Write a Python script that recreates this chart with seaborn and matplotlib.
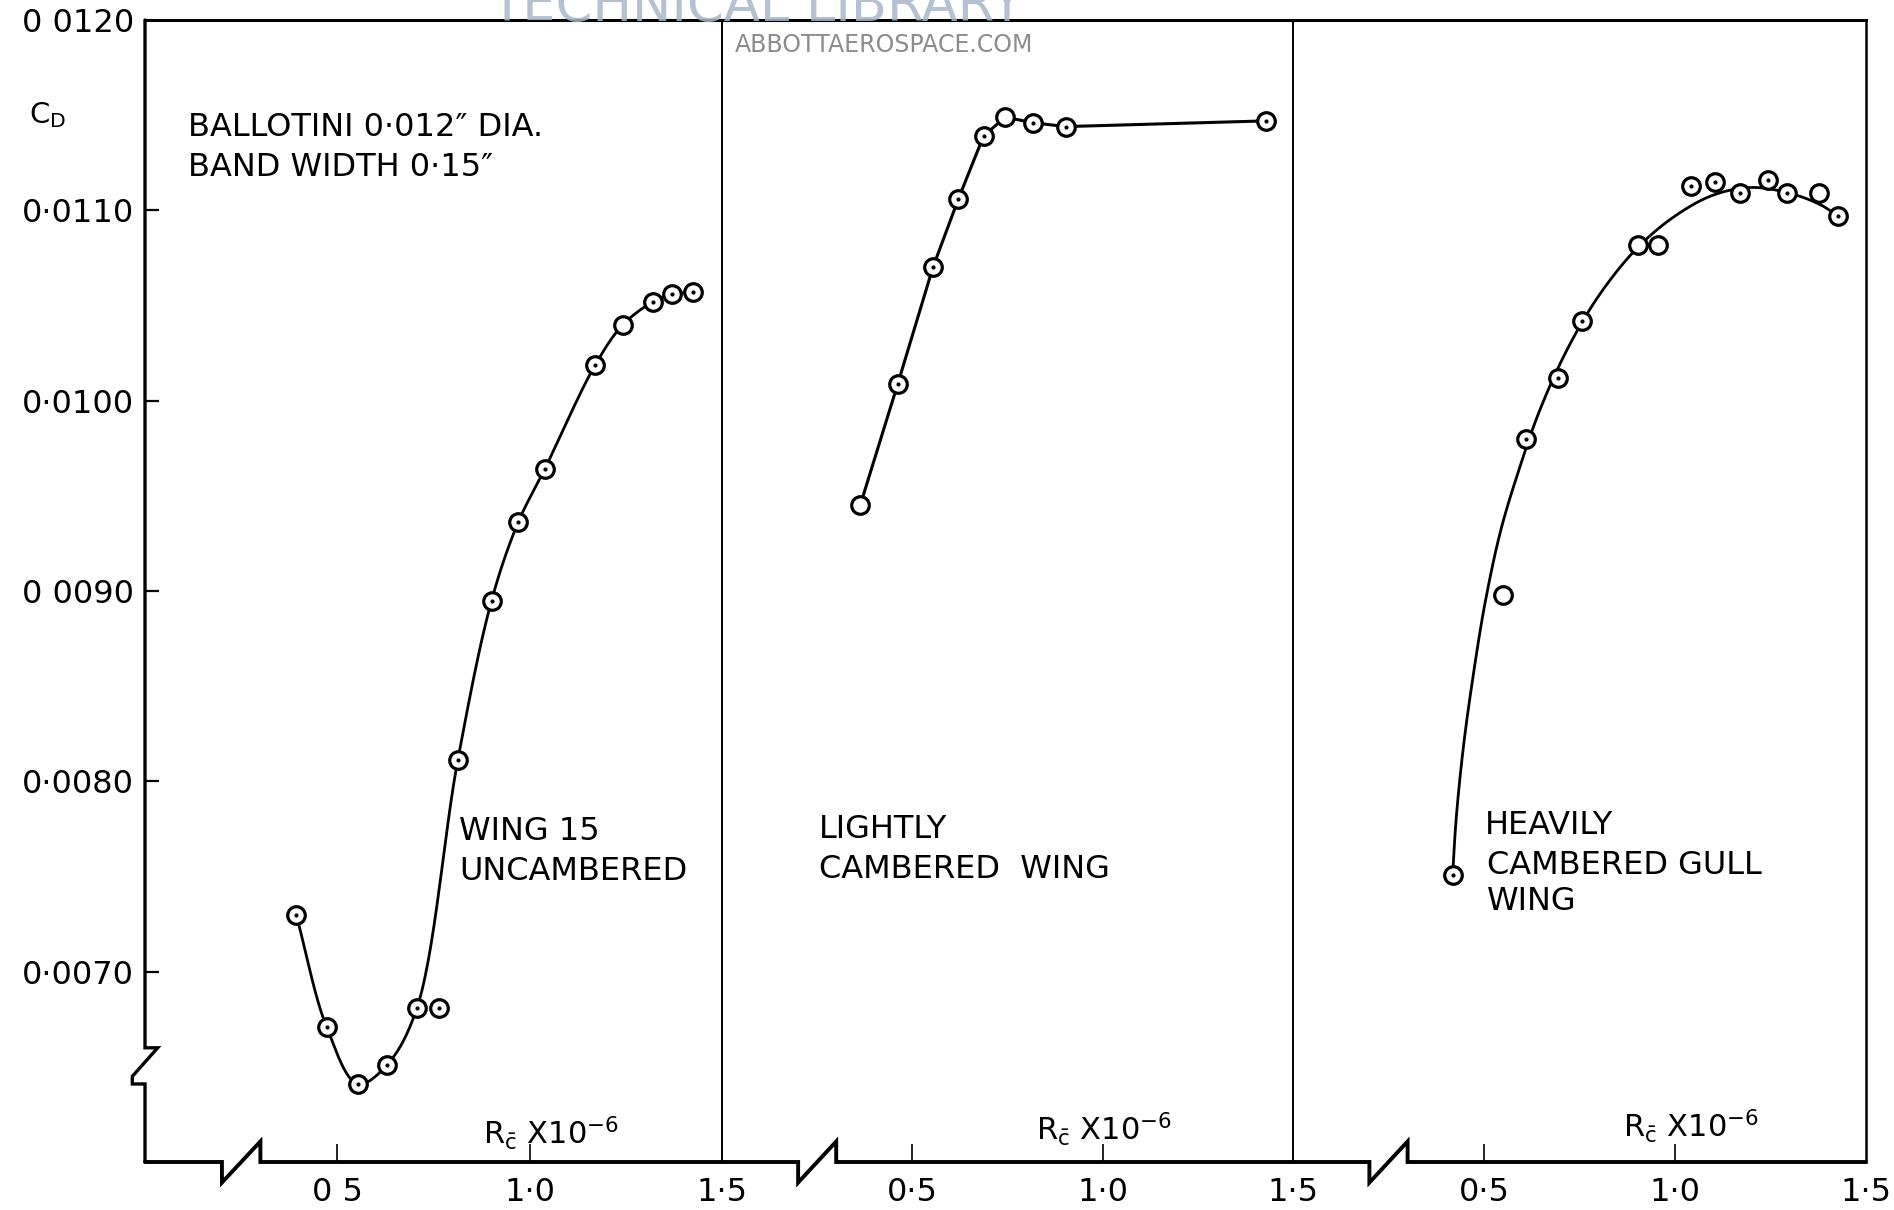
import numpy as np
import matplotlib
matplotlib.use("Agg")
import matplotlib.pyplot as plt
import seaborn as sns

# ---------------- data ----------------
# Wing 15, uncambered
wing15_re = [0.393, 0.472, 0.553, 0.629, 0.707, 0.763, 0.813, 0.901, 0.970,
             1.039, 1.171, 1.243, 1.321, 1.371, 1.425]
wing15_cd = [0.00730, 0.00671, 0.00641, 0.00651, 0.00681, 0.00681, 0.00811,
             0.00895, 0.00936, 0.00964, 0.01019, 0.01040, 0.01052, 0.01056, 0.01057]
wing15_dot = [1, 1, 1, 1, 1, 1, 1, 1, 1, 1, 1, 0, 1, 1, 1]
# faired curve through the points (the 0.763 point lies off the curve)
wing15_fair_re = [0.393, 0.472, 0.553, 0.629, 0.707, 0.813, 0.901, 0.970,
                  1.039, 1.171, 1.243, 1.321, 1.371, 1.425]
wing15_fair_cd = [0.00730, 0.00671, 0.00641, 0.00651, 0.00681, 0.00811, 0.00895,
                  0.00936, 0.00964, 0.01019, 0.01040, 0.01052, 0.01056, 0.01057]

# Lightly cambered wing
light_re = [0.363, 0.462, 0.554, 0.621, 0.687, 0.744, 0.817, 0.903, 1.430]
light_cd = [0.00945, 0.01009, 0.01070, 0.01106, 0.01139, 0.01149, 0.01146, 0.01144, 0.01147]
light_dot = [0, 1, 1, 1, 1, 0, 1, 1, 1]

# Heavily cambered gull wing
gull_re = [0.418, 0.551, 0.611, 0.693, 0.756, 0.902, 0.956, 1.041, 1.104,
           1.171, 1.244, 1.294, 1.377, 1.427]
gull_cd = [0.00751, 0.00898, 0.00980, 0.01012, 0.01042, 0.01082, 0.01082, 0.01113,
           0.01115, 0.01109, 0.01116, 0.01109, 0.01109, 0.01097]
gull_dot = [1, 0, 1, 1, 1, 0, 0, 1, 1, 1, 1, 1, 0, 1]
# faired curve as drawn in the reference
gull_fair_re = [0.418, 0.427, 0.446, 0.472, 0.503, 0.544, 0.592, 0.646, 0.718,
                0.800, 0.900, 1.000, 1.100, 1.200, 1.300, 1.380, 1.427]
gull_fair_cd = [0.00751, 0.00780, 0.00818, 0.00856, 0.00894, 0.00932, 0.00964,
                0.00995, 0.01027, 0.01055, 0.01080, 0.01097, 0.01108, 0.01112,
                0.01109, 0.01103, 0.01097]

ytick_vals = [0.0070, 0.0080, 0.0090, 0.0100, 0.0110, 0.0120]
ytick_labels = ["0·0070", "0·0080", "0 0090", "0·0100", "0·0110", "0 0120"]
xtick_vals = [0.5, 1.0, 1.5]
xtick_labels_left = ["0 5", "1·0", "1·5"]
xtick_labels = ["0·5", "1·0", "1·5"]

# ---------------- style ----------------
sns.set_theme(style="white")
plt.rcParams["font.family"] = ["DejaVu Sans"]
plt.rcParams["mathtext.default"] = "regular"
plt.rcParams["text.color"] = "black"

W, H = 1894, 1210
fig = plt.figure(figsize=(W / 100, H / 100), dpi=100)
fig.patch.set_facecolor("white")


def fx(px):
    return px / W


def fy(py):
    return 1 - py / H


top_px, bot_px = 20, 1162
edges = [145, 722, 1293, 1866]
axes = []
for i in range(3):
    ax = fig.add_axes([fx(edges[i]), fy(bot_px), (edges[i + 1] - edges[i]) / W,
                       (bot_px - top_px) / H])
    ax.set_xlim(0, 1.5)
    ax.set_ylim(0.0060, 0.0120)
    ax.set_facecolor("none")
    axes.append(ax)

XSPAN, YSPAN = 1.5, 0.006


def smooth(xs, ys, n=30):
    sx = 577 / XSPAN
    sy = 1142 / YSPAN
    P = np.column_stack([np.asarray(xs) * sx, np.asarray(ys) * sy])
    P = np.vstack([2 * P[0] - P[1], P, 2 * P[-1] - P[-2]])
    out = [P[1]]
    for i in range(1, len(P) - 2):
        p0, p1, p2, p3 = P[i - 1], P[i], P[i + 1], P[i + 2]
        t0 = 0.0
        t1 = t0 + np.linalg.norm(p1 - p0) ** 0.5
        t2 = t1 + np.linalg.norm(p2 - p1) ** 0.5
        t3 = t2 + np.linalg.norm(p3 - p2) ** 0.5
        t = np.linspace(t1, t2, n)[1:, None]
        A1 = (t1 - t) / (t1 - t0) * p0 + (t - t0) / (t1 - t0) * p1
        A2 = (t2 - t) / (t2 - t1) * p1 + (t - t1) / (t2 - t1) * p2
        A3 = (t3 - t) / (t3 - t2) * p2 + (t - t2) / (t3 - t2) * p3
        B1 = (t2 - t) / (t2 - t0) * A1 + (t - t0) / (t2 - t0) * A2
        B2 = (t3 - t) / (t3 - t1) * A2 + (t - t1) / (t3 - t1) * A3
        C = (t2 - t) / (t2 - t1) * B1 + (t - t1) / (t2 - t1) * B2
        out.extend(C)
    out = np.array(out)
    return out[:, 0] / sx, out[:, 1] / sy


def draw_points(ax, xs, ys, dots):
    sns.scatterplot(x=xs, y=ys, ax=ax, marker="o", s=160, color="white",
                    edgecolor="black", linewidth=2.3, zorder=4, legend=False)
    dx = [x for x, d in zip(xs, dots) if d]
    dy = [y for y, d in zip(ys, dots) if d]
    sns.scatterplot(x=dx, y=dy, ax=ax, marker="o", s=9, color="black",
                    linewidth=0, zorder=5, legend=False)


# panel 1
cx, cy = smooth(wing15_fair_re, wing15_fair_cd)
sns.lineplot(x=cx, y=cy, ax=axes[0], sort=False, estimator=None, color="black",
             linewidth=2.0, zorder=3)
draw_points(axes[0], wing15_re, wing15_cd, wing15_dot)

# panel 2
sns.lineplot(x=light_re, y=light_cd, ax=axes[1], sort=False, estimator=None,
             color="black", linewidth=2.2, zorder=3)
draw_points(axes[1], light_re, light_cd, light_dot)

# panel 3
cx, cy = smooth(gull_fair_re, gull_fair_cd)
sns.lineplot(x=cx, y=cy, ax=axes[2], sort=False, estimator=None, color="black",
             linewidth=2.0, zorder=3)
draw_points(axes[2], gull_re, gull_cd, gull_dot)

# ---------------- axes, spines, ticks ----------------
for i, ax in enumerate(axes):
    for s in ["left", "bottom"]:
        ax.spines[s].set_visible(False)
    ax.spines["top"].set_visible(True)
    ax.spines["top"].set_linewidth(2.2)
    ax.spines["top"].set_color("black")
    ax.spines["right"].set_visible(True)
    ax.spines["right"].set_color("black")
    ax.spines["right"].set_linewidth(1.4 if i < 2 else 1.8)

    ax.set_xticks(xtick_vals)
    ax.set_xticklabels(xtick_labels_left if i == 0 else xtick_labels)
    ax.tick_params(axis="x", direction="in", length=13, width=1.2, pad=11,
                   labelsize=23, colors="black", bottom=True, top=False)
    ax.xaxis.get_major_ticks()[-1].tick1line.set_visible(False)

    # bottom axis with break symbol
    tr = ax.get_xaxis_transform()
    d = 0.018
    ax.plot([0, 0.2, 0.2, 0.3, 0.3, 1.5], [0, 0, -d, d, 0, 0], color="black",
            lw=2.8, transform=tr, clip_on=False, solid_joinstyle="miter", zorder=6)
    ax.set_xlabel("")
    ax.set_ylabel("")
    ax.grid(False)

    if i == 0:
        ax.set_yticks(ytick_vals)
        ax.set_yticklabels(ytick_labels)
        ax.tick_params(axis="y", direction="in", length=10, width=1.6, pad=8,
                       labelsize=23, colors="black", left=True, right=False)
        ax.yaxis.get_major_ticks()[-1].tick1line.set_visible(False)
        ty = ax.get_yaxis_transform()
        ax.plot([0, 0, 0.022, -0.022, -0.022, 0, 0],
                [0.0120, 0.00660, 0.00660, 0.00645, 0.00641, 0.00641, 0.0060],
                color="black", lw=2.4, transform=ty, clip_on=False,
                solid_joinstyle="miter", zorder=6)
    else:
        ax.set_yticks([])
        ax.tick_params(axis="y", left=False, right=False)

# ---------------- texts ----------------
fs = 23
tc = "black"
fig.text(fx(48), fy(115), "C$_{D}$", fontsize=21, ha="center", va="center", color=tc)
fig.text(fx(188), fy(128), "BALLOTINI 0·012″ DIA.", fontsize=fs, ha="left", va="center", color=tc)
fig.text(fx(188), fy(167), "BAND WIDTH 0·15″", fontsize=fs, ha="left", va="center", color=tc)

fig.text(fx(459), fy(831), "WING 15", fontsize=fs, ha="left", va="center", color=tc)
fig.text(fx(459), fy(871), "UNCAMBERED", fontsize=fs, ha="left", va="center", color=tc)
fig.text(fx(819), fy(830), "LIGHTLY", fontsize=fs, ha="left", va="center", color=tc)
fig.text(fx(819), fy(869), "CAMBERED  WING", fontsize=fs, ha="left", va="center", color=tc)
fig.text(fx(1485), fy(826), "HEAVILY", fontsize=fs, ha="left", va="center", color=tc)
fig.text(fx(1487), fy(865), "CAMBERED GULL", fontsize=fs, ha="left", va="center", color=tc)
fig.text(fx(1487), fy(902), "WING", fontsize=fs, ha="left", va="center", color=tc)

for x0, y0 in [(483, 1133), (1036, 1129), (1623, 1126)]:
    fig.text(fx(x0), fy(y0), r"R$_{\bar{c}}$ X10$^{-6}$", fontsize=22,
             ha="left", va="center", color=tc)

# watermark (cut off at the top edge, as in the reference)
fig.text(fx(757), fy(21), "TECHNICAL LIBRARY", fontsize=38, color="#a7b7ca",
         ha="center", va="baseline", alpha=0.85, zorder=10)
fig.text(fx(884), fy(45), "ABBOTTAEROSPACE.COM", fontsize=17, color="#8c8c8c",
         ha="center", va="center", zorder=10)

fig.savefig("out.png", dpi=100, facecolor="white")
